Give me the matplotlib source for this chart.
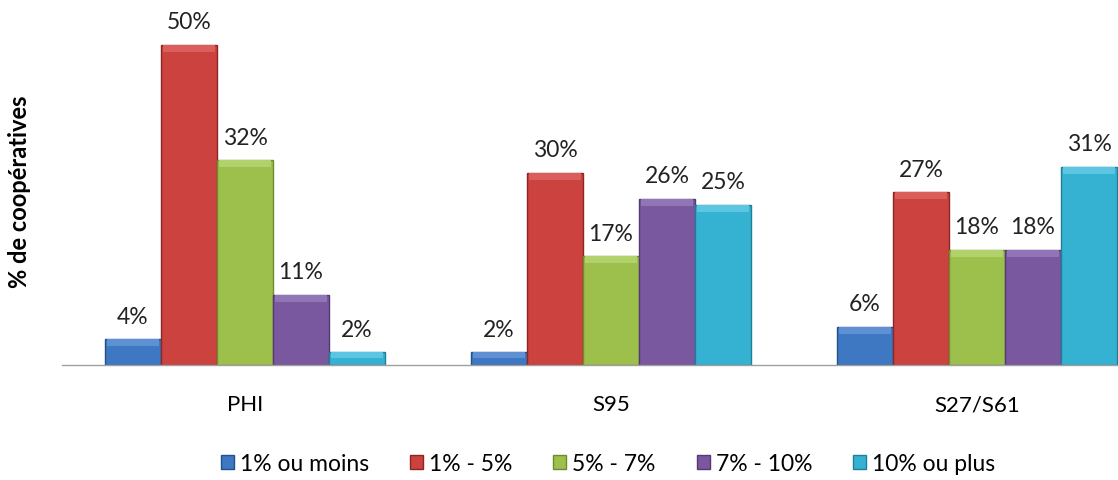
import matplotlib
matplotlib.use("Agg")
import matplotlib.pyplot as plt
import numpy as np
from matplotlib.patches import Patch

categories = ["PHI", "S95", "S27/S61"]
series_names = ["1% ou moins", "1% - 5%", "5% - 7%", "7% - 10%", "10% ou plus"]
v_1_ou_moins = [4, 2, 6]
v_1_5 = [50, 30, 27]
v_5_7 = [32, 17, 18]
v_7_10 = [11, 26, 18]
v_10_plus = [2, 25, 31]
values = [v_1_ou_moins, v_1_5, v_5_7, v_7_10, v_10_plus]

colors = ["#3E78C2", "#CB423E", "#9CC04B", "#7A58A0", "#35B2D2"]
edges = ["#24508A", "#8A2724", "#6E8C2E", "#533A73", "#1E7F99"]
highlights = ["#5F90D3", "#DA5E5B", "#B1D26B", "#9275B6", "#5CC6E2"]

plt.rcParams['font.family'] = ['Lato', 'DejaVu Sans']

W, H = 1118, 481
fig = plt.figure(figsize=(W/100, H/100), dpi=100)
ax_left = 62 / W
ax = fig.add_axes([ax_left, 1 - 366/H, 1 - ax_left, 366/H])

bw = 0.153
x = np.arange(len(categories))
offsets = (np.arange(len(series_names)) - 2) * bw
for i, (name, vals) in enumerate(zip(series_names, values)):
    xs = x + offsets[i]
    ax.bar(xs, vals, width=bw, color=colors[i], edgecolor=edges[i], linewidth=1.0, zorder=2)
    band = [min(1.1, v * 0.45) for v in vals]
    ax.bar(xs, band, bottom=[v - b for v, b in zip(vals, band)], width=bw*0.92,
           color=highlights[i], linewidth=0, zorder=3)
    for xi, v in zip(xs, vals):
        ax.annotate(f"{v}%", (xi, v), xytext=(0, 9), textcoords="offset points",
                    ha="center", va="bottom", fontsize=16.5, color="#222222")

ax.set_xlim(-0.5, (W - 62) / 366 - 0.5)
ax.set_ylim(0, 366 / 6.4)
ax.set_yticks([])
ax.set_xticks(x)
ax.set_xticklabels(categories, fontsize=16)
ax.tick_params(axis='x', length=0, pad=21)
for s in ["top", "right", "left"]:
    ax.spines[s].set_visible(False)
ax.spines["bottom"].set_color("#A0A0A0")
ax.spines["bottom"].set_linewidth(1.0)

fig.text(20/W, 1 - 192/H, "% de coopératives", rotation=90, ha="center", va="center",
         fontsize=17, fontweight="bold")

handles = [Patch(facecolor=colors[i], edgecolor=edges[i], label=series_names[i]) for i in range(5)]
fig.legend(handles=handles, loc="center", bbox_to_anchor=(608/W, 1 - 465/H), ncol=5,
           frameon=False, fontsize=16.5, handlelength=0.57, handleheight=0.57,
           handletextpad=0.25, columnspacing=1.8, borderpad=0)

fig.savefig("out.png", dpi=100)
